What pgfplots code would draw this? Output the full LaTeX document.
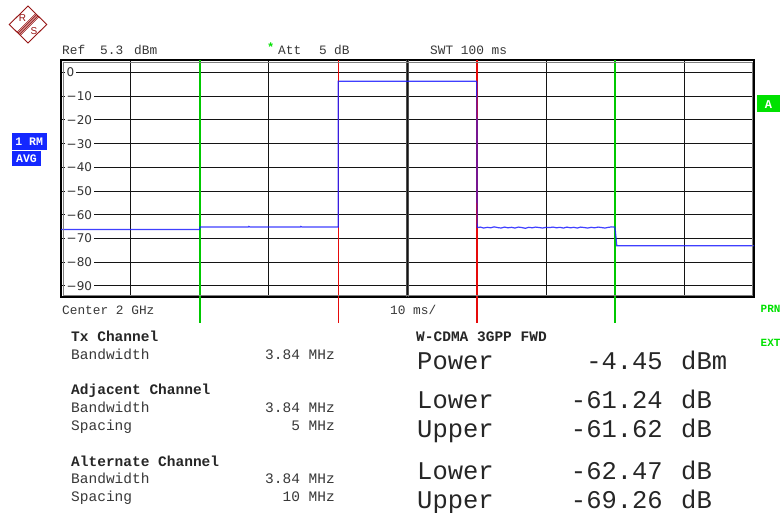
\documentclass[border=0pt]{standalone}
\usepackage{pgfplots}
\pgfplotsset{compat=1.18}
\usepackage{fontspec}
\setmainfont{Liberation Mono}
\newfontfamily\mono{Liberation Mono}
\newfontfamily\dejavu{DejaVu Sans}
\newfontfamily\lsans{Liberation Sans}
\definecolor{trace}{RGB}{30,30,255}
\definecolor{mred}{RGB}{230,10,10}
\definecolor{lgreen}{RGB}{0,200,0}
\definecolor{bgreen}{RGB}{0,225,0}
\definecolor{boxblue}{RGB}{20,40,255}
\definecolor{rsred}{RGB}{150,20,20}
\definecolor{gridc}{RGB}{20,20,20}

\pgfplotstableread{
x y
0 -66.2
20 -66.2
20.05 -65.2
27 -65.2
27.1 -64.9
27.3 -65.2
34.5 -65.2
34.6 -64.9
34.8 -65.2
40 -65.2
40.02 -3.7
60 -3.7
60.05 -65.4
60.5 -65.2
61 -65.6
61.5 -65.3
62 -65.5
62.5 -65.1
63 -65.4
63.5 -65.6
64 -65.2
64.5 -65.5
65 -65.3
65.5 -65.6
66 -65.2
66.5 -65.4
67 -65.7
67.5 -65.3
68 -65.5
68.5 -65.2
69 -65.4
69.5 -65.6
70 -65.3
70.5 -65.4
71 -65.2
71.5 -65.5
72 -65.3
72.5 -65.6
73 -65.2
73.5 -65.5
74 -65.3
74.5 -65.6
75 -65.2
75.5 -65.4
76 -65.6
76.5 -65.3
77 -65.5
77.5 -65.2
78 -65.4
78.5 -65.6
79 -65.3
79.5 -65.1
79.9 -65.2
80 -67.0
80.2 -73.1
100 -73.1
}\tracedata

\begin{document}
\begin{tikzpicture}[x=1bp,y=-1bp,
  small/.style={font=\mono\fontsize{12.8bp}{15bp}\selectfont, text=black!78, inner sep=0},
  tab/.style={font=\mono\fontsize{14.5bp}{17bp}\selectfont, text=black!78, inner sep=0},
  tabb/.style={font=\mono\bfseries\fontsize{14.5bp}{17bp}\selectfont, text=black!85, inner sep=0},
  big/.style={font=\mono\fontsize{25.5bp}{28bp}\selectfont, text=black!85, inner sep=0}]
\useasboundingbox (0,0) rectangle (780,513);
\clip (0,0) rectangle (780,513);
\fill[white] (0,0) rectangle (780,513);

% R&S logo
\draw[rsred, line width=0.9bp] (9.3,24.5) -- (28,6) -- (46.7,24.5) -- (28,43) -- cycle;
\foreach \k in {-1.6,-0.8,0,0.8,1.6}{
  \draw[rsred, line width=0.6bp] (18.65+\k,33.85+\k) -- (37.35+\k,15.15+\k);
}
\node[rsred, font=\lsans\fontsize{10bp}{11bp}\selectfont, inner sep=0] at (22.5,18) {R};
\node[rsred, font=\lsans\fontsize{10bp}{11bp}\selectfont, inner sep=0] at (34,31) {S};

\begin{axis}[
  at={(61bp,-297bp)}, anchor=south west,
  scale only axis, width=693bp, height=237bp,
  xmin=0, xmax=100, ymin=-94.7, ymax=5.3,
  xtick={0,10,...,100}, xticklabels={},
  ytick={-90,-80,...,0},
  yticklabels={−90,−80,−70,−60,−50,−40,−30,−20,−10,0},
  grid=major, major grid style={gridc, line width=1.05bp},
  major tick length=5bp, tick align=inside,
  ytick pos=left, xtick style={draw=none},
  ytick style={gridc, line width=1.05bp},
  yticklabel style={anchor=west, xshift=3.5bp, fill=white, inner xsep=2bp, inner ysep=1bp,
     font=\dejavu\fontsize{12bp}{13bp}\selectfont, text=black!80},
  axis line style={black, line width=1.8bp},
  clip=false,
]
\draw[gridc!75, line width=0.9bp] (axis cs:49.8,5.3) -- (axis cs:49.8,-94.7);
\draw[gridc!75, line width=0.9bp] (axis cs:50.2,5.3) -- (axis cs:50.2,-94.7);
\draw[draw=lgreen, line width=2bp] (axis cs:20,5.3) -- (axis cs:20,-105.7);
\draw[draw=lgreen, line width=2bp] (axis cs:80,5.3) -- (axis cs:80,-105.7);
\draw[draw=mred, line width=1.4bp] (axis cs:40,5.3) -- (axis cs:40,-105.7);
\draw[draw=mred, line width=1.4bp] (axis cs:60,5.3) -- (axis cs:60,-105.7);
\addplot[trace, line width=1.2bp, opacity=0.85, mark=none] table[x=x,y=y] {\tracedata};
\end{axis}
\draw[black!50, line width=0.9bp] (63,62) rectangle (752,295);

% header
\node[small, anchor=base west] at (62,54.5) {Ref};
\node[small, anchor=base west] at (100,54.5) {5.3};
\node[small, anchor=base west] at (134,54.5) {dBm};
\node[font=\mono\bfseries\fontsize{12bp}{13bp}\selectfont, text=bgreen, inner sep=0, anchor=base west] at (267,52) {*};
\node[small, anchor=base west] at (278,54.5) {Att};
\node[small, anchor=base west] at (319,54.5) {5};
\node[small, anchor=base west] at (334,54.5) {dB};
\node[small, anchor=base west] at (430,54.5) {SWT 100 ms};
\node[small, anchor=base west] at (62,314.5) {Center 2 GHz};
\node[small, anchor=base west] at (390,314.5) {10 ms/};

% side boxes
\fill[boxblue] (12,133.5) rectangle (46.5,150);
\node[font=\mono\bfseries\fontsize{11.5bp}{12bp}\selectfont, text=white, inner sep=0] at (29.2,142) {1 RM};
\fill[boxblue] (12,151.5) rectangle (41,166);
\node[font=\mono\bfseries\fontsize{11.5bp}{12bp}\selectfont, text=white, inner sep=0] at (26.5,159) {AVG};
\fill[bgreen] (757,95.5) rectangle (781,112.5);
\node[font=\mono\bfseries\fontsize{12bp}{12bp}\selectfont, text=white, inner sep=0] at (768.5,104.5) {A};
\node[font=\mono\bfseries\fontsize{11bp}{12bp}\selectfont, text=bgreen, inner sep=0, anchor=base west] at (760.5,312.5) {PRN};
\node[font=\mono\bfseries\fontsize{11bp}{12bp}\selectfont, text=bgreen, inner sep=0, anchor=base west] at (760.5,346) {EXT};

% left table
\node[tabb, anchor=base west] at (71,341.2) {Tx Channel};
\node[tab, anchor=base west] at (71,359.2) {Bandwidth};
\node[tab, anchor=base east] at (335,359.2) {3.84 MHz};
\node[tabb, anchor=base west] at (71,394.5) {Adjacent Channel};
\node[tab, anchor=base west] at (71,412.8) {Bandwidth};
\node[tab, anchor=base east] at (335,412.8) {3.84 MHz};
\node[tab, anchor=base west] at (71,430.5) {Spacing};
\node[tab, anchor=base east] at (335,430.5) {5 MHz};
\node[tabb, anchor=base west] at (71,466.8) {Alternate Channel};
\node[tab, anchor=base west] at (71,483.5) {Bandwidth};
\node[tab, anchor=base east] at (335,483.5) {3.84 MHz};
\node[tab, anchor=base west] at (71,501.2) {Spacing};
\node[tab, anchor=base east] at (335,501.2) {10 MHz};

% right table
\node[tabb, anchor=base west] at (416,341.2) {W-CDMA 3GPP FWD};
\node[big, anchor=base west] at (417,369) {Power};
\node[big, anchor=base east] at (663,369) {-4.45};
\node[big, anchor=base west] at (681,369) {dBm};
\node[big, anchor=base west] at (417,408.3) {Lower};
\node[big, anchor=base east] at (663,408.3) {-61.24};
\node[big, anchor=base west] at (681,408.3) {dB};
\node[big, anchor=base west] at (417,437.3) {Upper};
\node[big, anchor=base east] at (663,437.3) {-61.62};
\node[big, anchor=base west] at (681,437.3) {dB};
\node[big, anchor=base west] at (417,479.3) {Lower};
\node[big, anchor=base east] at (663,479.3) {-62.47};
\node[big, anchor=base west] at (681,479.3) {dB};
\node[big, anchor=base west] at (417,508.3) {Upper};
\node[big, anchor=base east] at (663,508.3) {-69.26};
\node[big, anchor=base west] at (681,508.3) {dB};
\end{tikzpicture}
\end{document}
